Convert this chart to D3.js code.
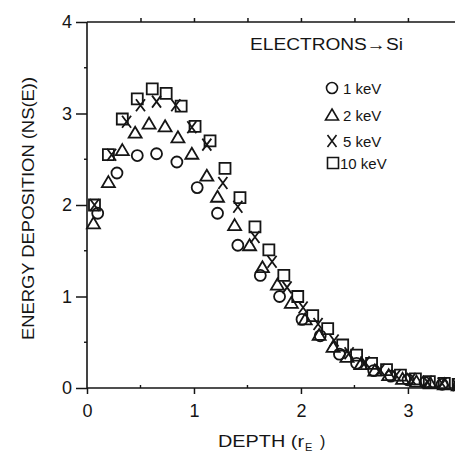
<!DOCTYPE html>
<html>
<head>
<meta charset="utf-8">
<script src="https://cdn.jsdelivr.net/npm/d3@7"></script>
<style>
  body { margin: 0; background: #fff; }
  text { font-family: "Liberation Sans", Arial, sans-serif; fill: #151515; }
</style>
</head>
<body>
<script>
// depth (r_E) and energy deposition
const depth1 = [0.10, 0.28, 0.47, 0.65, 0.84, 1.03, 1.22, 1.41, 1.62, 1.80, 2.01, 2.18, 2.36, 2.52, 2.68, 2.84, 3.00, 3.16, 3.32, 3.48];
const dep1   = [1.91, 2.35, 2.54, 2.56, 2.47, 2.19, 1.91, 1.56, 1.23, 1.00, 0.75, 0.57, 0.37, 0.27, 0.19, 0.13, 0.09, 0.06, 0.04, 0.03];

const depth2 = [0.06, 0.20, 0.33, 0.45, 0.58, 0.73, 0.85, 0.98, 1.12, 1.22, 1.38, 1.52, 1.64, 1.78, 1.91, 2.04, 2.17, 2.30, 2.43, 2.56, 2.69, 2.82, 2.95, 3.08, 3.21, 3.34, 3.47];
const dep2   = [1.80, 2.25, 2.60, 2.79, 2.89, 2.86, 2.74, 2.56, 2.32, 2.09, 1.78, 1.56, 1.32, 1.13, 0.93, 0.75, 0.58, 0.45, 0.34, 0.26, 0.19, 0.14, 0.10, 0.07, 0.05, 0.04, 0.03];

const depth5 = [0.07, 0.23, 0.37, 0.50, 0.65, 0.83, 0.98, 1.12, 1.27, 1.41, 1.57, 1.73, 1.87, 2.02, 2.16, 2.31, 2.45, 2.60, 2.74, 2.89, 3.03, 3.18, 3.32, 3.46];
const dep5   = [2.00, 2.55, 2.91, 3.09, 3.13, 3.09, 2.85, 2.66, 2.24, 1.98, 1.65, 1.38, 1.10, 0.88, 0.70, 0.52, 0.38, 0.28, 0.20, 0.14, 0.10, 0.07, 0.05, 0.03];

const depth10 = [0.07, 0.20, 0.33, 0.47, 0.61, 0.74, 0.88, 1.01, 1.15, 1.29, 1.43, 1.57, 1.70, 1.84, 1.97, 2.11, 2.25, 2.39, 2.52, 2.66, 2.80, 2.93, 3.07, 3.20, 3.34, 3.47];
const dep10   = [2.00, 2.55, 2.94, 3.16, 3.27, 3.22, 3.08, 2.86, 2.70, 2.40, 2.08, 1.76, 1.51, 1.23, 1.00, 0.79, 0.65, 0.47, 0.36, 0.27, 0.20, 0.14, 0.10, 0.07, 0.05, 0.04];

const seriesNames = ["1 keV", "2 keV", "5 keV", "10 keV"];
const xTicks = [0, 1, 2, 3];
const yTicks = [0, 1, 2, 3, 4];

const width = 455, height = 452;
const mLeft = 87, mBottom = 388, mTop = 22, mRight = 455;

const svg = d3.select("body")
  .append("svg")
  .attr("width", width)
  .attr("height", height);

const x = d3.scaleLinear().domain([0, 3.44]).range([mLeft, mRight]);
const y = d3.scaleLinear().domain([0, 4]).range([mBottom, mTop]);

const ink = "#151515";

// marker shapes
const shapes = {
  circle: "M5.5,0A5.5,5.5 0 1,1 -5.5,0A5.5,5.5 0 1,1 5.5,0Z",
  triangle: "M0,-6L6.5,5L-6.5,5Z",
  cross: "M-4.5,-6L4.5,6M4.5,-6L-4.5,6",
  square: "M-5.5,-5.5H5.5V5.5H-5.5Z"
};

const series = [
  { name: seriesNames[0], xs: depth1, ys: dep1, shape: "circle" },
  { name: seriesNames[1], xs: depth2, ys: dep2, shape: "triangle" },
  { name: seriesNames[2], xs: depth5, ys: dep5, shape: "cross" },
  { name: seriesNames[3], xs: depth10, ys: dep10, shape: "square" }
];

// bottom axis
const axisBottom = d3.axisBottom(x).tickValues(xTicks).tickSize(6).tickFormat(d3.format("d"));
const gb = svg.append("g").attr("transform", `translate(0,${mBottom})`).call(axisBottom);
gb.select(".domain").remove();
gb.selectAll("text").attr("dy", "0").attr("y", 29).style("font-size", "18px");

svg.append("line").attr("x1", mLeft).attr("x2", mRight).attr("y1", mBottom).attr("y2", mBottom)
  .attr("stroke", ink).attr("stroke-width", 1.6);

// minor ticks bottom (up)
svg.append("g").selectAll("line")
  .data([0.5, 1.5, 2.5])
  .enter().append("line")
  .attr("x1", d => x(d)).attr("x2", d => x(d))
  .attr("y1", mBottom).attr("y2", mBottom - 3)
  .attr("stroke", ink).attr("stroke-width", 1.4);

// top axis
const axisTop = d3.axisTop(x).tickValues([0.5, 1, 1.5, 2, 2.5, 3]).tickSize(4).tickFormat("");
const gt = svg.append("g").attr("transform", `translate(0,${mTop})`).call(axisTop);
gt.select(".domain").remove();
svg.append("line").attr("x1", mLeft).attr("x2", mRight).attr("y1", mTop).attr("y2", mTop)
  .attr("stroke", ink).attr("stroke-width", 1.6);

// left axis
const axisLeft = d3.axisLeft(y).tickValues(yTicks).tickSize(11).tickFormat(d3.format("d"));
const gl = svg.append("g").attr("transform", `translate(${mLeft},0)`).call(axisLeft);
gl.select(".domain").remove();
gl.selectAll("text").attr("x", -15).style("font-size", "18px");
svg.append("line").attr("x1", mLeft).attr("x2", mLeft).attr("y1", mTop).attr("y2", mBottom)
  .attr("stroke", ink).attr("stroke-width", 1.6);

svg.append("g").selectAll("line")
  .data([0.5, 1.5, 2.5, 3.5])
  .enter().append("line")
  .attr("x1", mLeft - 3).attr("x2", mLeft)
  .attr("y1", d => y(d)).attr("y2", d => y(d))
  .attr("stroke", ink).attr("stroke-width", 1.4);

svg.selectAll(".tick line").attr("stroke", ink).attr("stroke-width", 1.5);
svg.selectAll(".tick text").attr("fill", ink).style("font-family", "Liberation Sans, Arial, sans-serif");

// data markers
series.forEach(s => {
  svg.append("g").selectAll("path")
    .data(s.xs.map((d, i) => ({ x: d, y: s.ys[i] })))
    .enter().append("path")
    .attr("transform", d => `translate(${x(d.x)},${y(d.y)})`)
    .attr("d", shapes[s.shape])
    .attr("fill", "none")
    .attr("stroke", ink)
    .attr("stroke-width", 1.8);
});

// titles
svg.append("text")
  .attr("x", 250).attr("y", 50)
  .attr("textLength", 153).attr("lengthAdjust", "spacingAndGlyphs")
  .style("font-size", "16px")
  .text("ELECTRONS\u2192Si");

const legendY = [88, 115, 141, 163];
const legendX = [332, 332, 332, 333];
series.forEach((s, i) => {
  svg.append("path")
    .attr("transform", `translate(${legendX[i]},${legendY[i]})`)
    .attr("d", shapes[s.shape])
    .attr("fill", "none").attr("stroke", ink).attr("stroke-width", 1.6);
  svg.append("text")
    .attr("x", i === 3 ? 340 : 343).attr("y", legendY[i] + 6)
    .style("font-size", "15px")
    .text(s.name);
});

// x title: DEPTH (r_E)
svg.append("text")
  .attr("x", 218).attr("y", 447)
  .attr("textLength", 86).attr("lengthAdjust", "spacingAndGlyphs")
  .style("font-size", "16px")
  .text("DEPTH (r");
svg.append("text")
  .attr("x", 305).attr("y", 451)
  .style("font-size", "11px")
  .text("E");
svg.append("text")
  .attr("x", 320).attr("y", 447)
  .style("font-size", "16px")
  .text(")");

svg.append("text")
  .attr("transform", "translate(34,340) rotate(-90)")
  .attr("textLength", 263).attr("lengthAdjust", "spacingAndGlyphs")
  .style("font-size", "16px")
  .text("ENERGY DEPOSITION (NS(E))");
</script>
</body>
</html>
